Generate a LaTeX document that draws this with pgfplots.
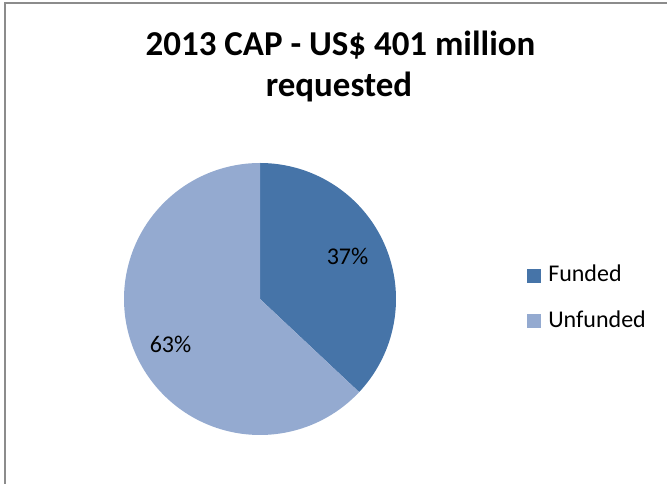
\documentclass[border=0pt]{standalone}
\usepackage{pgfplots}
\pgfplotsset{compat=1.18}
\usepackage{fontspec}
\setmainfont{Carlito}
\definecolor{funded}{HTML}{4674A8}
\definecolor{unfunded}{HTML}{94AAD0}
\definecolor{framegray}{HTML}{8C8C8C}
\begin{document}
\begin{tikzpicture}[x=0.75pt,y=0.75pt]
\useasboundingbox (0,0) rectangle (667,484);
\draw[framegray, line width=1.5pt] (5,0) -- (5,481) -- (667,481);
\coordinate (pc) at (260,185);
% data (percent)
\def\funded{37}
\def\unfunded{63}
\pgfmathsetmacro{\angA}{90-3.6*\funded}
\pgfmathsetmacro{\angB}{\angA-3.6*\unfunded}
\begin{axis}[
  at={(pc)}, anchor=origin,
  scale only axis, width=204pt, height=204pt,
  xmin=-1, xmax=1, ymin=-1, ymax=1,
  hide axis, clip=false,
]
\addplot[fill=funded, draw=none, domain=90:\angA, samples=90]
  ({cos(x)},{sin(x)}) -- (0,0) -- cycle;
\addplot[fill=unfunded, draw=none, domain=\angA:\angB, samples=150]
  ({cos(x)},{sin(x)}) -- (0,0) -- cycle;
\end{axis}
\node[anchor=base, font=\fontsize{18pt}{21pt}\selectfont] at (347.5,219) {37\%};
\node[anchor=base, font=\fontsize{18pt}{21pt}\selectfont] at (170.5,131) {63\%};
% title
\node[anchor=base, font=\fontsize{26.2pt}{31pt}\selectfont\bfseries] at (340.5,428) {2013 CAP - US\$ 401 million};
\node[anchor=base, font=\fontsize{26.2pt}{31pt}\selectfont\bfseries] at (339,387) {requested};
% legend
\fill[funded] (527,201) rectangle (541,215);
\fill[unfunded] (527,156) rectangle (541,170);
\node[anchor=base west, inner sep=0pt, font=\fontsize{18pt}{21pt}\selectfont] at (548,202) {Funded};
\node[anchor=base west, inner sep=0pt, font=\fontsize{18pt}{21pt}\selectfont] at (548,156) {Unfunded};
\end{tikzpicture}
\end{document}
